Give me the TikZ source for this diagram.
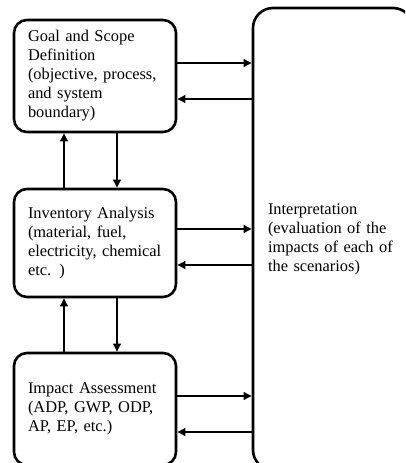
\documentclass[tikz,border=0pt]{standalone}
\usepackage{fontspec}
\setmainfont{Liberation Serif}
\usetikzlibrary{arrows.meta}
\begin{document}
\begin{tikzpicture}[x=1pt,y=-1pt,
  box/.style={draw, line width=2.6pt, rounded corners=13pt, align=left,
    font=\fontsize{16.4}{19}\selectfont, inner sep=0pt, anchor=center},
  lbox/.style={box, minimum width=162pt, text width=134pt},
  conn/.style={line width=2.1pt, -{Triangle[length=8pt,width=7.5pt]}}]
\useasboundingbox (0,0) rectangle (405,463);
\clip (0,0) rectangle (405,463);
\node[lbox, minimum height=112pt] (goal) at (95,76)
  {Goal and Scope\\Definition\\(objective, process,\\and system\\boundary)};
\node[lbox, minimum height=108pt] (inv) at (95,243)
  {Inventory Analysis\\(material, fuel,\\electricity, chemical\\etc. )};
\node[lbox, minimum height=112pt] (imp) at (95,409)
  {Impact Assessment\\(ADP, GWP, ODP,\\AP, EP, etc.)};
\node[box, rounded corners=20pt, minimum width=160pt, minimum height=462pt, text width=130pt] (int) at (333,239)
  {Interpretation\\(evaluation of the\\impacts of each of\\the scenarios)};
% horizontal connectors
\draw[conn] (goal.east |- 0,63) -- (int.west |- 0,63);
\draw[conn] (int.west |- 0,99) -- (goal.east |- 0,99);
\draw[conn] (inv.east |- 0,229) -- (int.west |- 0,229);
\draw[conn] (int.west |- 0,265) -- (inv.east |- 0,265);
\draw[conn] (imp.east |- 0,396) -- (int.west |- 0,396);
\draw[conn] (int.west |- 0,432) -- (imp.east |- 0,432);
% vertical connectors
\draw[conn] (inv.north -| 64,0) -- (goal.south -| 64,0);
\draw[conn] (goal.south -| 117,0) -- (inv.north -| 117,0);
\draw[conn] (imp.north -| 64,0) -- (inv.south -| 64,0);
\draw[conn] (inv.south -| 117,0) -- (imp.north -| 117,0);
\end{tikzpicture}
\end{document}
